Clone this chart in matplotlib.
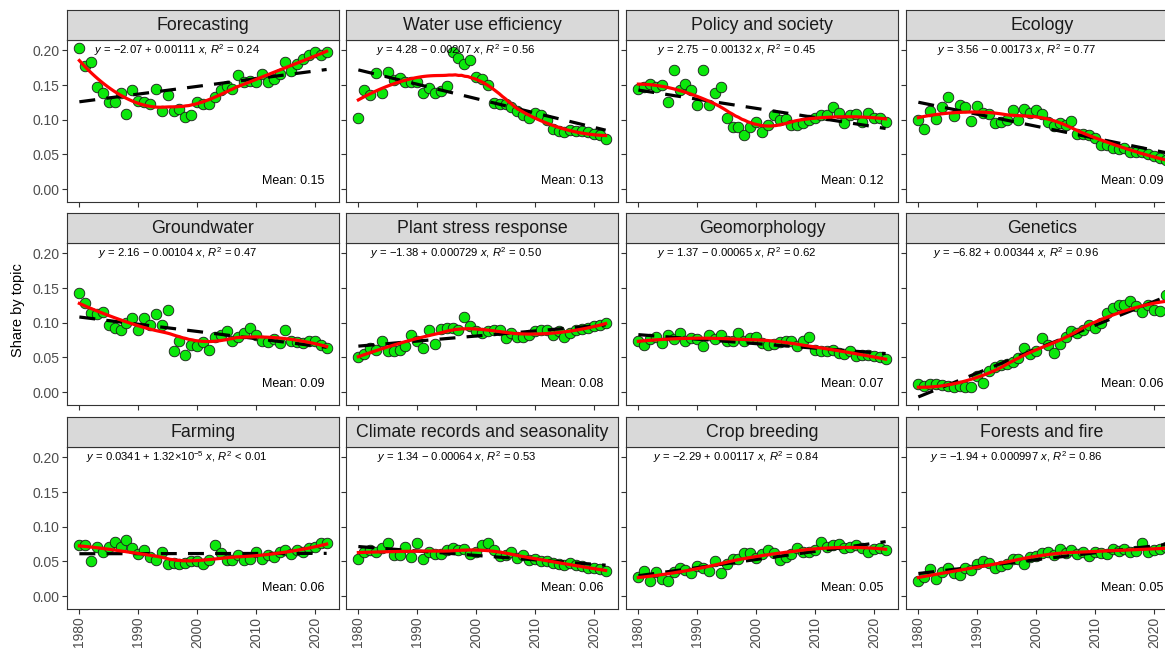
import numpy as np
import matplotlib
matplotlib.use("Agg")
import matplotlib.pyplot as plt

plt.rcParams['font.family'] = 'Liberation Sans'
plt.rcParams['mathtext.fontset'] = 'custom'
plt.rcParams['mathtext.rm'] = 'Liberation Sans'
plt.rcParams['mathtext.it'] = 'Liberation Sans:italic'

years = list(range(1980, 2023))

forecasting = [0.204, 0.178, 0.183, 0.147, 0.138, 0.126, 0.126, 0.139, 0.108, 0.143,
               0.127, 0.126, 0.122, 0.144, 0.112, 0.136, 0.112, 0.115, 0.104, 0.107,
               0.125, 0.122, 0.123, 0.133, 0.143, 0.149, 0.145, 0.164, 0.155, 0.156,
               0.154, 0.166, 0.154, 0.159, 0.166, 0.183, 0.171, 0.181, 0.187, 0.193,
               0.197, 0.193, 0.198]
water_use = [0.103, 0.143, 0.135, 0.167, 0.139, 0.169, 0.158, 0.160, 0.155, 0.155,
             0.154, 0.139, 0.146, 0.138, 0.141, 0.149, 0.198, 0.189, 0.181, 0.186,
             0.162, 0.159, 0.150, 0.124, 0.122, 0.122, 0.119, 0.112, 0.107, 0.103,
             0.110, 0.107, 0.100, 0.087, 0.084, 0.083, 0.085, 0.084, 0.084, 0.082,
             0.080, 0.078, 0.072]
policy = [0.145, 0.147, 0.151, 0.147, 0.150, 0.126, 0.172, 0.143, 0.152, 0.143,
          0.121, 0.172, 0.121, 0.138, 0.147, 0.103, 0.090, 0.089, 0.078, 0.089,
          0.097, 0.083, 0.093, 0.107, 0.100, 0.101, 0.093, 0.093, 0.095, 0.100,
          0.103, 0.107, 0.107, 0.119, 0.109, 0.095, 0.107, 0.108, 0.097, 0.109,
          0.102, 0.102, 0.097]
ecology = [0.100, 0.087, 0.112, 0.101, 0.119, 0.133, 0.106, 0.121, 0.119, 0.098,
           0.120, 0.109, 0.108, 0.095, 0.097, 0.100, 0.114, 0.100, 0.115, 0.110,
           0.114, 0.108, 0.097, 0.091, 0.095, 0.093, 0.098, 0.080, 0.080, 0.078,
           0.073, 0.064, 0.064, 0.059, 0.058, 0.059, 0.054, 0.054, 0.054, 0.050,
           0.048, 0.045, 0.042]
groundwater = [0.143, 0.129, 0.114, 0.112, 0.116, 0.096, 0.093, 0.090, 0.100, 0.107,
               0.090, 0.107, 0.097, 0.112, 0.097, 0.118, 0.059, 0.073, 0.054, 0.068,
               0.066, 0.072, 0.060, 0.080, 0.083, 0.088, 0.073, 0.080, 0.085, 0.093,
               0.083, 0.073, 0.072, 0.076, 0.071, 0.090, 0.073, 0.072, 0.071, 0.074,
               0.073, 0.068, 0.064]
plant_stress = [0.050, 0.055, 0.064, 0.060, 0.074, 0.059, 0.059, 0.060, 0.066, 0.083,
                0.073, 0.064, 0.090, 0.069, 0.091, 0.093, 0.093, 0.089, 0.108, 0.095,
                0.088, 0.085, 0.088, 0.090, 0.089, 0.078, 0.085, 0.080, 0.079, 0.082,
                0.088, 0.090, 0.089, 0.082, 0.088, 0.080, 0.085, 0.090, 0.091, 0.093,
                0.095, 0.096, 0.100]
geomorphology = [0.074, 0.068, 0.076, 0.080, 0.071, 0.082, 0.076, 0.085, 0.073, 0.078,
                 0.076, 0.066, 0.083, 0.076, 0.083, 0.073, 0.074, 0.085, 0.073, 0.078,
                 0.080, 0.071, 0.068, 0.069, 0.072, 0.073, 0.074, 0.066, 0.073, 0.079,
                 0.061, 0.059, 0.059, 0.060, 0.056, 0.055, 0.059, 0.052, 0.054, 0.053,
                 0.052, 0.050, 0.048]
genetics = [0.011, 0.008, 0.011, 0.011, 0.010, 0.008, 0.007, 0.008, 0.007, 0.007,
            0.023, 0.013, 0.030, 0.036, 0.039, 0.040, 0.044, 0.049, 0.063, 0.055,
            0.059, 0.078, 0.068, 0.056, 0.070, 0.080, 0.088, 0.085, 0.090, 0.097,
            0.093, 0.100, 0.114, 0.121, 0.126, 0.126, 0.131, 0.124, 0.116, 0.126,
            0.119, 0.117, 0.140]
farming = [0.073, 0.074, 0.050, 0.071, 0.064, 0.071, 0.078, 0.071, 0.081, 0.070,
           0.060, 0.066, 0.057, 0.052, 0.063, 0.046, 0.047, 0.046, 0.047, 0.050,
           0.050, 0.046, 0.052, 0.074, 0.062, 0.052, 0.052, 0.059, 0.052, 0.054,
           0.064, 0.054, 0.059, 0.057, 0.063, 0.066, 0.060, 0.066, 0.064, 0.069,
           0.071, 0.077, 0.076]
climate = [0.054, 0.064, 0.066, 0.064, 0.069, 0.076, 0.059, 0.059, 0.071, 0.057,
           0.077, 0.053, 0.064, 0.060, 0.060, 0.066, 0.069, 0.066, 0.068, 0.060,
           0.064, 0.074, 0.076, 0.066, 0.058, 0.059, 0.064, 0.055, 0.059, 0.052,
           0.053, 0.050, 0.050, 0.047, 0.046, 0.045, 0.047, 0.045, 0.044, 0.041,
           0.040, 0.039, 0.036]
crop_breeding = [0.028, 0.036, 0.022, 0.035, 0.025, 0.022, 0.035, 0.040, 0.037, 0.033,
                 0.044, 0.040, 0.036, 0.050, 0.033, 0.046, 0.053, 0.054, 0.062, 0.062,
                 0.055, 0.060, 0.066, 0.062, 0.052, 0.057, 0.060, 0.069, 0.064, 0.064,
                 0.066, 0.078, 0.071, 0.074, 0.075, 0.069, 0.071, 0.073, 0.069, 0.064,
                 0.068, 0.070, 0.066]
forests = [0.022, 0.028, 0.039, 0.025, 0.035, 0.041, 0.033, 0.030, 0.041, 0.037,
           0.046, 0.050, 0.047, 0.041, 0.044, 0.046, 0.053, 0.054, 0.046, 0.057,
           0.058, 0.062, 0.064, 0.059, 0.068, 0.062, 0.066, 0.060, 0.064, 0.058,
           0.064, 0.062, 0.060, 0.068, 0.065, 0.068, 0.064, 0.065, 0.076, 0.064,
           0.066, 0.068, 0.071]

topics = ["Forecasting", "Water use efficiency", "Policy and society", "Ecology",
          "Groundwater", "Plant stress response", "Geomorphology", "Genetics",
          "Farming", "Climate records and seasonality", "Crop breeding", "Forests and fire"]
shares = [forecasting, water_use, policy, ecology, groundwater, plant_stress,
          geomorphology, genetics, farming, climate, crop_breeding, forests]

# trend slopes as printed in the panel equations
slopes = [0.00111, -0.00207, -0.00132, -0.00173, -0.00104, 0.000729, -0.00065,
          0.00344, 1.32e-5, -0.00064, 0.00117, 0.000997]
eq_labels = [
    r"$y$ = −2.07 + 0.00111 $x$, $R^2$ = 0.24",
    r"$y$ = 4.28 − 0.00207 $x$, $R^2$ = 0.56",
    r"$y$ = 2.75 − 0.00132 $x$, $R^2$ = 0.45",
    r"$y$ = 3.56 − 0.00173 $x$, $R^2$ = 0.77",
    r"$y$ = 2.16 − 0.00104 $x$, $R^2$ = 0.47",
    r"$y$ = −1.38 + 0.000729 $x$, $R^2$ = 0.50",
    r"$y$ = 1.37 − 0.00065 $x$, $R^2$ = 0.62",
    r"$y$ = −6.82 + 0.00344 $x$, $R^2$ = 0.96",
    r"$y$ = 0.0341 + 1.32×10$^{-5}$ $x$, $R^2$ < 0.01",
    r"$y$ = 1.34 − 0.00064 $x$, $R^2$ = 0.53",
    r"$y$ = −2.29 + 0.00117 $x$, $R^2$ = 0.84",
    r"$y$ = −1.94 + 0.000997 $x$, $R^2$ = 0.86",
]
mean_labels = ["0.15", "0.13", "0.12", "0.09", "0.09", "0.08",
               "0.07", "0.06", "0.06", "0.06", "0.05", "0.05"]


def loess(x, y, xs, span=0.75):
    # local quadratic regression with tricube weights
    x = np.asarray(x, float)
    y = np.asarray(y, float)
    q = int(np.floor(len(x) * span))
    out = []
    for x0 in xs:
        d = np.abs(x - x0)
        h = np.sort(d)[q - 1]
        w = np.clip(1 - (d / h) ** 3, 0, None) ** 3
        X = np.vstack([np.ones_like(x), x - x0, (x - x0) ** 2]).T
        WX = X * w[:, None]
        beta = np.linalg.lstsq(WX.T @ X, WX.T @ y, rcond=None)[0]
        out.append(beta[0])
    return np.array(out)


W, H = 1165, 649
fig = plt.figure(figsize=(W / 100, H / 100), dpi=100)


def px_axes(left, top, width, height):
    return fig.add_axes([left / W, 1 - (top + height) / H, width / W, height / H])


lefts = [67, 346, 626, 906]
panel_tops = [40, 243, 447]
pw, ph, sh = 272, 162, 30
border = '#333333'

for i, (name, vals) in enumerate(zip(topics, shares)):
    row, col = divmod(i, 4)
    left, top = lefts[col], panel_tops[row]

    ax = px_axes(left, top, pw, ph)
    ax.scatter(years, vals, s=58, color='#0BE80B', edgecolors='#1a1a1a',
               linewidths=0.6, zorder=2)
    xs = np.linspace(years[0], years[-1], 80)
    # least-squares line passes through the centroid of the points
    fit = np.mean(vals) + slopes[i] * (xs - np.mean(years))
    ax.plot(xs, fit, color='black', lw=2.3, dashes=(5, 3.5), zorder=3)
    ax.plot(xs, loess(years, vals, xs), color='#FF0000', lw=2.3, zorder=4)

    ax.set_xlim(1977.9, 2024.1)
    ax.set_ylim(-0.0187, 0.215)
    ax.set_xticks([1980, 1990, 2000, 2010, 2020])
    ax.set_yticks([0, 0.05, 0.10, 0.15, 0.20])
    ax.tick_params(length=3.5, width=0.8, color=border, labelsize=10,
                   labelcolor='#4D4D4D', pad=2)
    if col == 0:
        ax.set_yticklabels(["0.00", "0.05", "0.10", "0.15", "0.20"])
    else:
        ax.set_yticklabels([])
    if row == 2:
        ax.set_xticklabels(["1980", "1990", "2000", "2010", "2020"], rotation=90)
    else:
        ax.set_xticklabels([])
    for sp in ax.spines.values():
        sp.set_color(border)
        sp.set_linewidth(0.8)

    ax.text(0.405, 0.938, eq_labels[i], transform=ax.transAxes, ha='center',
            va='center', fontsize=8.1, color='black')
    ax.text(0.945, 0.13, "Mean: " + mean_labels[i], transform=ax.transAxes,
            ha='right', va='center', fontsize=9, color='black')

    sax = px_axes(left, top - sh, pw, sh)
    sax.set_facecolor('#D9D9D9')
    sax.set_xticks([])
    sax.set_yticks([])
    for sp in sax.spines.values():
        sp.set_color(border)
        sp.set_linewidth(0.8)
    sax.text(0.5, 0.47, name, transform=sax.transAxes, ha='center', va='center',
             fontsize=12.8, color='#1A1A1A')

fig.text(18 / W, 1 - 310 / H, "Share by topic", rotation=90, ha='center',
         va='center', fontsize=10.5, color='black')

fig.savefig("out.png", dpi=100)
